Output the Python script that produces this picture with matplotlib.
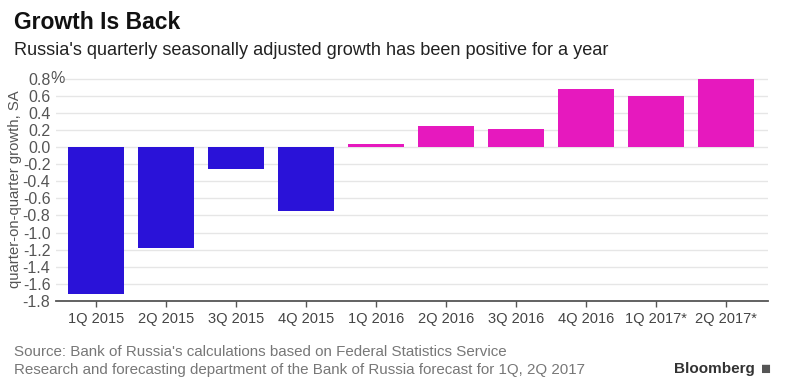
import matplotlib.pyplot as plt

# Data
quarters = ['1Q 2015', '2Q 2015', '3Q 2015', '4Q 2015', '1Q 2016',
            '2Q 2016', '3Q 2016', '4Q 2016', '1Q 2017*', '2Q 2017*']
growth = [-1.72, -1.18, -0.26, -0.75, 0.03, 0.24, 0.21, 0.68, 0.60, 0.80]
yticks = [0.8, 0.6, 0.4, 0.2, 0.0, -0.2, -0.4, -0.6, -0.8, -1.0,
          -1.2, -1.4, -1.6, -1.8]

blue = '#2a12d8'
pink = '#e619be'
plt.rcParams['font.family'] = ['Liberation Sans', 'DejaVu Sans']

fig = plt.figure(figsize=(7.88, 3.9), dpi=100)
ax = fig.add_axes([0.071, 0.228, 0.904, 0.575])

x = range(len(quarters))
colors = [blue if v < 0 else pink for v in growth]
ax.bar(x, growth, width=0.8, color=colors, zorder=3)

ax.set_xlim(-0.57, 9.6)
ax.set_ylim(-1.8, 0.82)
ax.set_yticks(yticks)
ax.set_yticklabels(['%.1f' % v for v in yticks], fontsize=11.5, color='#555555')
ax.set_xticks(list(x))
ax.set_xticklabels(quarters, fontsize=10.5, color='#444444')
ax.tick_params(axis='y', length=0, pad=4)
ax.tick_params(axis='x', length=4, width=1, color='#555555', pad=4)
ax.yaxis.grid(True, color='#e6e6e6', lw=1, zorder=0)
for s in ['top', 'right', 'left']:
    ax.spines[s].set_visible(False)
ax.spines['bottom'].set_color('#555555')
ax.spines['bottom'].set_linewidth(1.3)
ax.spines['bottom'].set_zorder(4)

# percent sign right after the top label
ax.annotate('%', xy=(0, 0.8), xycoords=('axes fraction', 'data'),
            xytext=(-4, 0), textcoords='offset points', ha='left', va='center',
            fontsize=11.5, color='#555555',
            bbox=dict(fc='white', ec='none', pad=0.3), zorder=5)

ax.set_ylabel('quarter-on-quarter growth, SA', fontsize=10.7, color='#555555')
ax.yaxis.set_label_coords(-0.047, 0.5)

fig.text(0.018, 0.942, 'Growth Is Back', fontsize=16.5, fontweight='bold',
         color='#111111', va='center')
fig.text(0.018, 0.87, "Russia's quarterly seasonally adjusted growth has been positive for a year",
         fontsize=13.1, color='#222222', va='center')
fig.text(0.018, 0.097, "Source: Bank of Russia's calculations based on Federal Statistics Service",
         fontsize=10.9, color='#777777', va='center')
fig.text(0.018, 0.051, 'Research and forecasting department of the Bank of Russia forecast for 1Q, 2Q 2017',
         fontsize=10.9, color='#777777', va='center')
fig.text(0.958, 0.053, 'Bloomberg', fontsize=11, fontweight='bold',
         color='#333333', va='center', ha='right')
fig.text(0.979, 0.053, '\u25a0', fontsize=12, color='#555555', va='center', ha='right')

fig.savefig('out.png', dpi=100)
